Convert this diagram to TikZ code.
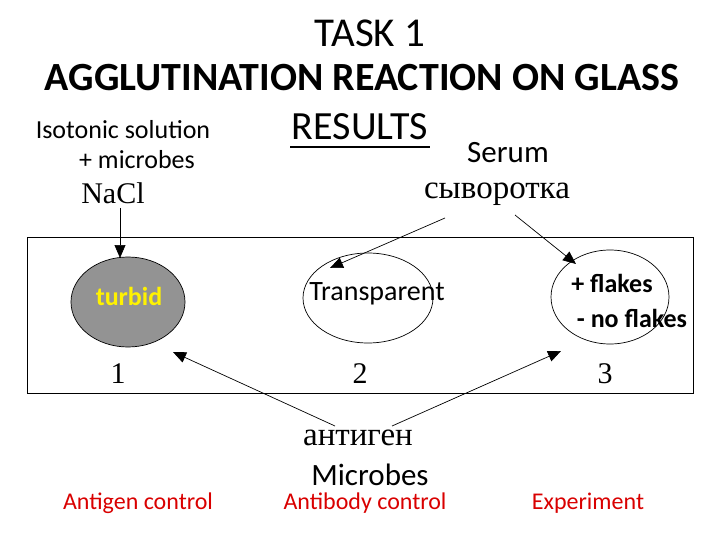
\documentclass[tikz,border=0pt]{standalone}
\usepackage{fontspec}
\setmainfont{Carlito}
\newfontfamily\serifcyr{Liberation Serif}
\usetikzlibrary{arrows.meta,shapes.geometric}
\begin{document}
\begin{tikzpicture}[x=1pt,y=-1pt,
  lbl/.style={inner sep=0pt,anchor=center},
  arr/.style={-{Triangle[length=13pt,width=11pt]},line width=0.7pt},
  ctl/.style={lbl,text=red!85!black,font=\fontsize{24}{28}\selectfont},
  srf/.style={lbl,font=\serifcyr\fontsize{30}{34}\selectfont},
  cyr/.style={lbl,font=\serifcyr\fontsize{33}{38}\selectfont}]
\useasboundingbox (0,0) rectangle (720,540);
\node[lbl,font=\fontsize{41}{46}\selectfont] (t1) at (370,33) {TASK 1};
\node[lbl,font=\bfseries\fontsize{40}{46}\selectfont] (t2) at (362,78) {AGGLUTINATION REACTION ON GLASS};
\node[lbl,font=\fontsize{40}{46}\selectfont] (t3) at (360,127) {RESULTS};
\draw[line width=1.2pt] (290,147) -- (430,147);
\node[lbl,font=\fontsize{26}{30}\selectfont] (iso) at (123,130) {Isotonic solution};
\node[lbl,font=\fontsize{26}{30}\selectfont] (mic) at (137,160) {+ microbes};
\node[lbl,font=\fontsize{31}{36}\selectfont] (ser) at (508,153) {Serum};
\node[srf] (nacl) at (113,193) {NaCl};
\node[cyr] (syv) at (497,194) {сыворотка};
\draw[line width=0.7pt] (27,237) rectangle (693,393);
\node[draw,ellipse,fill=gray!85,minimum width=114pt,minimum height=90pt,line width=0.7pt] (e1) at (128,302) {};
\node[lbl,text=yellow,font=\bfseries\fontsize{26}{30}\selectfont] at (129,296) {turbid};
\node[draw,ellipse,minimum width=130pt,minimum height=90pt,line width=0.7pt] (e2) at (368,298) {};
\node[lbl,font=\fontsize{28}{32}\selectfont] (tr) at (377,294) {Transparent};
\node[draw,ellipse,minimum width=118pt,minimum height=94pt,line width=0.7pt] (e3) at (610,297) {};
\node[lbl,font=\bfseries\fontsize{26}{30}\selectfont] (f1) at (612,283) {+ flakes};
\node[lbl,font=\bfseries\fontsize{26}{30}\selectfont] (f2) at (632,318) {- no flakes};
\coordinate (nb) at (120,208);
\draw[arr] (nb) -- (120,258);
\coordinate (sa) at (445,218);
\coordinate (sb) at (515,215);
\draw[arr] (sa) -- (330,268);
\draw[arr] (sb) -- (576,264);
\node[srf] (n1) at (118,374) {1};
\node[srf] (n2) at (360,374) {2};
\node[srf] (n3) at (605,374) {3};
\coordinate (aa) at (335,426);
\coordinate (ab) at (392,426);
\draw[arr] (aa) -- (173,352);
\draw[arr] (ab) -- (561,351);
\node[cyr] (ant) at (358,438) {антиген};
\node[lbl,font=\fontsize{31}{36}\selectfont] (mb) at (370,475) {Microbes};
\node[ctl] (c1) at (138,503) {Antigen control};
\node[ctl] (c2) at (365,503) {Antibody control};
\node[ctl] (c3) at (588,503) {Experiment};
\end{tikzpicture}
\end{document}
